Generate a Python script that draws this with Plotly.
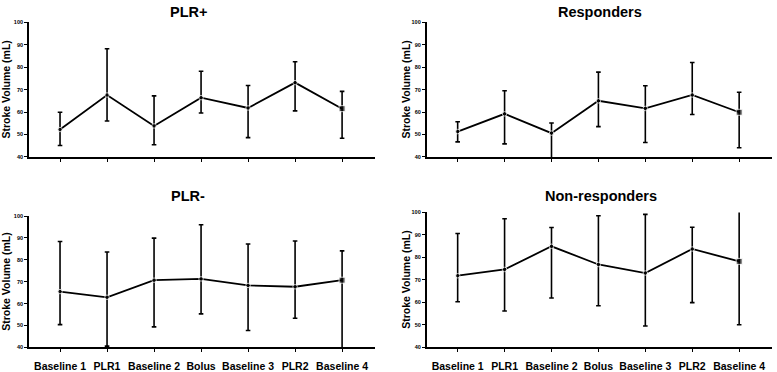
import plotly.graph_objects as go

categories = ["Baseline 1", "PLR1", "Baseline 2", "Bolus", "Baseline 3", "PLR2", "Baseline 4"]
y_ticks = [40, 50, 60, 70, 80, 90, 100]

# Median with upper / lower whisker values
plr_pos_mid = [52.2, 67.6, 53.8, 66.4, 61.8, 73.1, 61.5]
plr_pos_hi = [59.9, 88.2, 67.2, 78.2, 71.8, 82.4, 69.2]
plr_pos_lo = [45.1, 56.0, 45.4, 59.6, 48.6, 60.5, 48.3]

resp_mid = [51.3, 59.2, 50.6, 65.0, 61.6, 67.6, 59.9]
resp_hi = [55.7, 69.5, 55.1, 77.8, 71.7, 82.1, 68.8]
resp_lo = [46.7, 45.8, 39.0, 53.5, 46.4, 58.9, 44.1]

plr_neg_mid = [65.5, 62.9, 70.7, 71.3, 68.3, 67.7, 70.7]
plr_neg_hi = [88.4, 83.6, 89.9, 96.0, 87.2, 88.6, 84.1]
plr_neg_lo = [50.4, 40.6, 49.4, 55.3, 47.7, 53.3, 38.0]

nonresp_mid = [71.8, 74.6, 84.9, 76.8, 73.0, 83.7, 78.2]
nonresp_hi = [90.6, 97.2, 93.3, 98.5, 99.1, 93.4, 103.0]
nonresp_lo = [60.2, 56.1, 61.9, 58.4, 49.4, 59.8, 50.0]

panels = [
    ("PLR+", plr_pos_mid, plr_pos_hi, plr_pos_lo),
    ("Responders", resp_mid, resp_hi, resp_lo),
    ("PLR-", plr_neg_mid, plr_neg_hi, plr_neg_lo),
    ("Non-responders", nonresp_mid, nonresp_hi, nonresp_lo),
]

W, H = 777, 372
# plot-area boxes in pixels: (x0, x1, ytop, ybottom)
boxes = [
    (29, 375, 19.7, 157.3),
    (426.7, 772, 19.7, 157.3),
    (29, 375, 217.7, 352),
    (426.7, 772, 214, 351.7),
]
title_pos = [(188, 9), (599.5, 9), (188, 197), (600.5, 197)]
ytitle_x = [6, 406, 6, 406]

FONT = "Arial, Liberation Sans, sans-serif"
fig = go.Figure()
annotations = []
idx_x = list(range(len(categories)))

for i, (name, mid, hi, lo) in enumerate(panels):
    n = "" if i == 0 else str(i + 1)
    up = [h - m for h, m in zip(hi, mid)]
    dn = [m - l for m, l in zip(mid, lo)]
    symbols = ["circle"] * (len(mid) - 1) + ["square"]
    sizes = [4.5] * (len(mid) - 1) + [6]
    fig.add_trace(go.Scatter(
        x=idx_x, y=mid, mode="lines+markers",
        line=dict(color="black", width=1.8),
        marker=dict(color="black", symbol=symbols, size=sizes),
        error_y=dict(type="data", symmetric=False, array=up, arrayminus=dn,
                     color="black", thickness=1.6, width=2.3),
        xaxis="x" + n, yaxis="y" + n, showlegend=False, hoverinfo="skip",
    ))
    x0, x1, yt, yb = boxes[i]
    bottom = i >= 2
    fig.update_layout(**{
        "xaxis" + n: dict(
            domain=[x0 / W, x1 / W], anchor="y" + n,
            range=[-0.66, 6.7], tickmode="array", tickvals=idx_x,
            ticktext=categories if bottom else [""] * len(categories),
            ticks="outside", ticklen=3, tickwidth=1.3, tickcolor="black",
            showline=True, linecolor="black", linewidth=1.7,
            showgrid=False, zeroline=False, ticklabelstandoff=5,
            tickfont=dict(family=FONT, size=10.5, color="black", weight="bold"),
        ),
        "yaxis" + n: dict(
            domain=[1 - yb / H, 1 - yt / H], anchor="x" + n,
            range=[40, 100], tickvals=y_ticks,
            ticks="outside", ticklen=3, tickwidth=1.3, tickcolor="black",
            showline=True, linecolor="black", linewidth=1.7,
            showgrid=False, zeroline=False,
            tickfont=dict(family=FONT, size=5.5, color="black", weight="bold"),
        ),
    })
    tx, ty = title_pos[i]
    annotations.append(dict(
        text="<b>" + name + "</b>", x=tx / W, y=1 - ty / H, xref="paper", yref="paper",
        xanchor="center", yanchor="middle", showarrow=False,
        font=dict(family=FONT, size=14.5, color="black"),
    ))
    annotations.append(dict(
        text="<b>Stroke Volume (mL)</b>", x=ytitle_x[i] / W, y=1 - ((yt + yb) / 2) / H,
        xref="paper", yref="paper", xanchor="center", yanchor="middle",
        textangle=-90, showarrow=False,
        font=dict(family=FONT, size=10.5, color="black"),
    ))

fig.update_layout(
    width=W, height=H, margin=dict(l=0, r=0, t=0, b=0),
    paper_bgcolor="white", plot_bgcolor="white",
    annotations=annotations,
)

fig.write_html(
    "out.html",
    config={"displayModeBar": False},
    post_script="document.body.style.margin='0px';document.body.style.overflow='hidden';",
)
